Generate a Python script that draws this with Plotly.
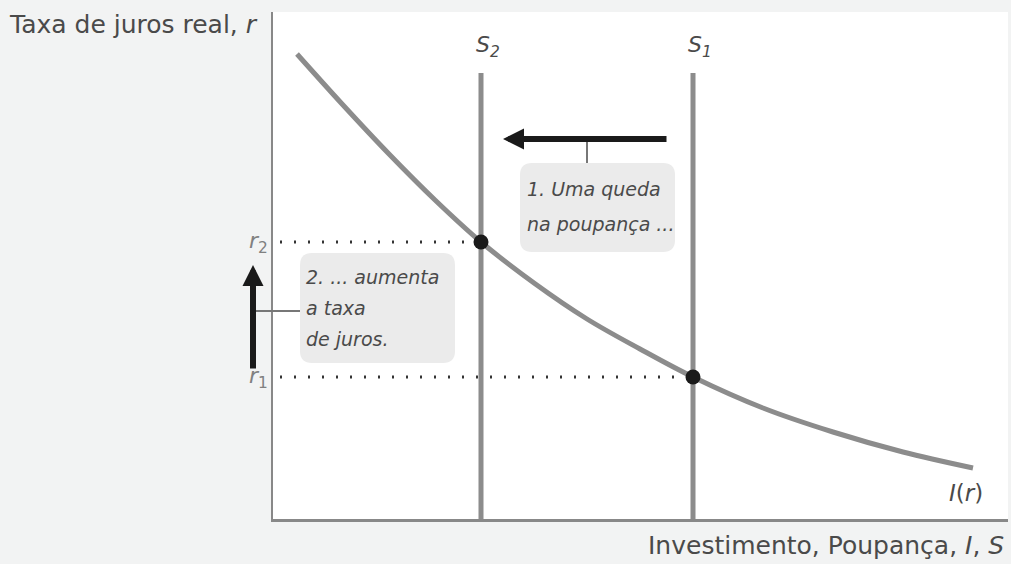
import plotly.graph_objects as go

# ---- data (axis units) ----
curve_x = [24, 70, 116, 162, 208, 261, 314, 367, 420, 490, 560, 630, 700]
curve_y = [465, 414, 365, 319, 277, 236, 200, 170, 142, 111, 87, 67, 51]
s_labels = ["S<sub>2</sub>", "S<sub>1</sub>"]
s_values = [208, 420]
r_labels = ["<i>r</i><sub>2</sub>", "<i>r</i><sub>1</sub>"]
r_values = [277, 142]
S_TOP = 446

XR = [0, 735]
YR = [0, 507]
L, T, W, H = 273, 12, 735, 507

def px(xp):
    return (xp - L) / W

def py(yp):
    return (T + H - yp) / H

FONT = "'DejaVu Sans', sans-serif"
TXT = "#4a4a4a"
LINEC = "#8c8c8c"

fig = go.Figure()

for sx, rv in zip(s_values, r_values):
    fig.add_trace(go.Scatter(x=[7, sx], y=[rv, rv], mode="lines",
                             line=dict(color="#333333", width=3, dash="2px,12px"),
                             hoverinfo="skip", showlegend=False))

for sx in s_values:
    fig.add_trace(go.Scatter(x=[sx, sx], y=[0, S_TOP], mode="lines",
                             line=dict(color=LINEC, width=5),
                             hoverinfo="skip", showlegend=False))

fig.add_trace(go.Scatter(x=curve_x, y=curve_y, mode="lines",
                         line=dict(color=LINEC, width=5, shape="spline", smoothing=1.0),
                         hoverinfo="skip", showlegend=False))

fig.add_trace(go.Scatter(x=s_values, y=r_values, mode="markers",
                         marker=dict(color="#1a1a1a", size=15),
                         hoverinfo="skip", showlegend=False))

def rrect(x0, y0, x1, y1, r):
    return (f"M {x0+r},{y0} L {x1-r},{y0} Q {x1},{y0} {x1},{y0+r} "
            f"L {x1},{y1-r} Q {x1},{y1} {x1-r},{y1} L {x0+r},{y1} "
            f"Q {x0},{y1} {x0},{y1-r} L {x0},{y0+r} Q {x0},{y0} {x0+r},{y0} Z")

shapes = []
shapes.append(dict(type="path", xref="x", yref="y",
                   path=rrect(520 - L, T + H - 252, 675 - L, T + H - 163, 12),
                   fillcolor="#ebebeb", line=dict(width=0), layer="below"))
shapes.append(dict(type="path", xref="x", yref="y",
                   path=rrect(300 - L, T + H - 363, 455 - L, T + H - 253, 12),
                   fillcolor="#ebebeb", line=dict(width=0), layer="below"))
shapes.append(dict(type="line", xref="paper", yref="paper",
                   x0=px(587), x1=px(587), y0=py(140), y1=py(163),
                   line=dict(color="#777777", width=2)))
shapes.append(dict(type="line", xref="paper", yref="paper",
                   x0=px(253), x1=px(300), y0=py(311), y1=py(311),
                   line=dict(color="#777777", width=2)))

annotations = []
annotations.append(dict(xref="paper", yref="paper", x=px(503), y=py(139),
                        ax=668 - 503, ay=0, showarrow=True, arrowhead=2,
                        arrowsize=0.7, arrowwidth=6, arrowcolor="#1a1a1a", text=""))
annotations.append(dict(xref="paper", yref="paper", x=px(253), y=py(265),
                        ax=0, ay=370 - 265, showarrow=True, arrowhead=2,
                        arrowsize=0.7, arrowwidth=6, arrowcolor="#1a1a1a", text=""))

for lab, sx in zip(s_labels, s_values):
    annotations.append(dict(xref="x", yref="y", x=sx + 7, y=T + H - 46, yanchor="middle",
                            text=f"<i>{lab}</i>", showarrow=False,
                            font=dict(family=FONT, size=22, color=TXT)))
for lab, rv in zip(r_labels, r_values):
    annotations.append(dict(xref="paper", yref="y", x=px(247), y=rv, yanchor="middle",
                            text=lab, showarrow=False,
                            font=dict(family=FONT, size=22, color="#808080")))

box1 = ["1. Uma queda", "na poupança ..."]
for i, t in enumerate(box1):
    annotations.append(dict(xref="x", yref="y", x=525 - L, y=T + H - (189 + 35 * i),
                            xanchor="left", yanchor="middle", text=f"<i>{t}</i>",
                            showarrow=False, font=dict(family=FONT, size=19, color=TXT)))
box2 = ["2. ... aumenta", "a taxa", "de juros."]
for i, t in enumerate(box2):
    annotations.append(dict(xref="x", yref="y", x=304 - L, y=T + H - (277 + 31 * i),
                            xanchor="left", yanchor="middle", text=f"<i>{t}</i>",
                            showarrow=False, font=dict(family=FONT, size=19, color=TXT)))

annotations.append(dict(xref="x", yref="y", x=966 - L, y=T + H - 493, yanchor="middle",
                        text="<i>I</i>(<i>r</i>)", showarrow=False,
                        font=dict(family=FONT, size=23, color=TXT)))
annotations.append(dict(xref="paper", yref="paper", x=px(7), y=py(24),
                        xanchor="left", yanchor="middle", text="Taxa de juros real, <i>r</i>",
                        showarrow=False, font=dict(family=FONT, size=25, color=TXT)))
annotations.append(dict(xref="paper", yref="paper", x=px(1006), y=py(545),
                        xanchor="right", yanchor="middle",
                        text="Investimento, Poupança, <i>I</i>, <i>S</i>",
                        showarrow=False, font=dict(family=FONT, size=25, color=TXT)))

fig.update_layout(
    width=1011, height=564,
    margin=dict(l=L, r=1011 - L - W, t=T, b=564 - T - H, pad=0),
    paper_bgcolor="#f2f3f3", plot_bgcolor="#ffffff",
    xaxis=dict(range=XR, showgrid=False, zeroline=False, showticklabels=False,
               ticks="", showline=True, linecolor="#888888", linewidth=3),
    yaxis=dict(range=YR, showgrid=False, zeroline=False, showticklabels=False,
               ticks="", showline=True, linecolor="#888888", linewidth=2),
    shapes=shapes, annotations=annotations, showlegend=False,
)

fig.write_html("out.html", config={"displayModeBar": False},
               post_script="document.body.style.margin='0px';document.body.style.overflow='hidden';")
